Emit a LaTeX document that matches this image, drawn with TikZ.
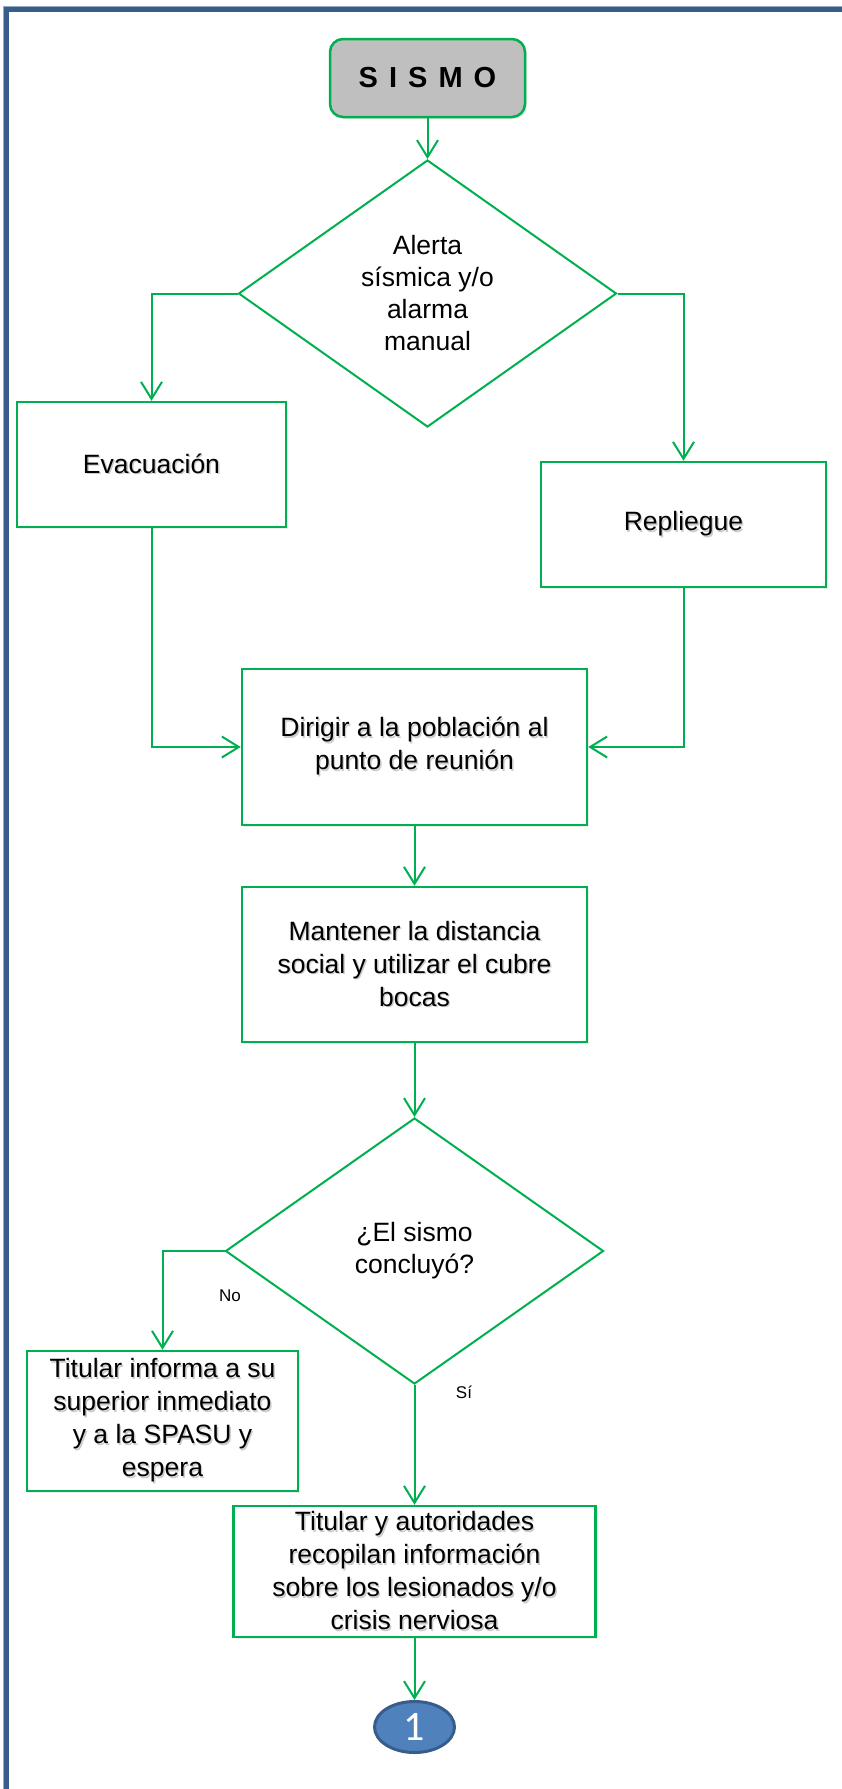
\documentclass[tikz,border=0pt]{standalone}
\usepackage{fontspec}
\setmainfont{Liberation Sans}
\newfontfamily\digitfont{Carlito}
\usetikzlibrary{shapes.geometric,arrows.meta,shadows}
\definecolor{flowgreen}{HTML}{00B050}
\definecolor{frameblue}{HTML}{385D8A}
\definecolor{framelight}{HTML}{95A9C4}
\definecolor{startgray}{HTML}{BFBFBF}
\definecolor{connfill}{HTML}{4F81BD}
\definecolor{connedge}{HTML}{385D8A}
\newcommand\txtshadow[1]{\makebox[0pt][l]{\kern1.4pt\raisebox{-1.4pt}{\color{black!20}#1}}#1}
\begin{document}
\begin{tikzpicture}[x=1pt,y=-1pt,
  box/.style={draw=flowgreen,line width=2.5pt,fill=white,inner sep=0pt,align=center,
    font=\fontsize{26.5}{33}\selectfont,
    drop shadow={shadow xshift=2pt,shadow yshift=-2pt,opacity=0.15}},
  decision/.style={diamond,aspect=1.42,draw=flowgreen,line width=2pt,inner sep=0pt,align=center,
    font=\fontsize{26.5}{32}\selectfont},
  arr/.style={draw=flowgreen,line width=2pt,-{Straight Barb[length=17pt,width=21pt]}},
  lbl/.style={font=\fontsize{17}{20}\selectfont,inner sep=0pt}
]
\useasboundingbox (0,0) rectangle (842,1789);
\fill[white] (0,0) rectangle (842,1789);
% frame
\draw[framelight,line width=1pt] (3,1789) -- (3,6.5) -- (842,6.5);
\draw[frameblue,line width=5pt,line join=miter] (6,1789) -- (6,9.5) -- (842,9.5);

% nodes
\node[box,rounded corners=13pt,fill=startgray,minimum width=195pt,minimum height=78pt,
  font=\fontsize{29}{33}\selectfont\bfseries] (sismo) at (427.5,78)
  {S\hspace{0.38em}I\hspace{0.38em}S\hspace{0.38em}M\hspace{0.38em}O};
\node[decision,minimum width=378pt,minimum height=267pt] (d1) at (427.5,293.5)
  {Alerta\\sísmica y/o\\alarma\\manual};
\node[box,minimum width=269pt,minimum height=125pt] (evac) at (151.5,464.5)
  {\txtshadow{Evacuación}};
\node[box,minimum width=285pt,minimum height=125pt] (rep) at (683.5,524.5)
  {\txtshadow{Repliegue}};
\node[box,minimum width=345pt,minimum height=156pt] (dir) at (414.5,747)
  {\txtshadow{Dirigir a la población al}\\\txtshadow{punto de reunión}};
\node[box,minimum width=345pt,minimum height=155pt] (man) at (414.5,964.5)
  {\txtshadow{Mantener la distancia}\\\txtshadow{social y utilizar el cubre}\\\txtshadow{bocas}};
\node[decision,minimum width=378pt,minimum height=266pt] (d2) at (414.5,1251)
  {¿El sismo\\concluyó?};
\node[box,minimum width=271pt,minimum height=140pt] (inf) at (162.5,1421)
  {\txtshadow{Titular informa a su}\\\txtshadow{superior inmediato}\\\txtshadow{y a la SPASU y}\\\txtshadow{espera}};
\node[box,minimum width=362pt,minimum height=131pt] (aut) at (414.5,1571.5)
  {\txtshadow{Titular y autoridades}\\\txtshadow{recopilan información}\\\txtshadow{sobre los lesionados y/o}\\\txtshadow{crisis nerviosa}};
\node[ellipse,draw=connedge,fill=connfill,line width=3pt,minimum width=80pt,minimum height=51pt,
  inner sep=0pt,text=white,font=\digitfont\fontsize{42}{42}\selectfont] (c1) at (414.5,1727) {1};

\node[lbl] (no) at (230,1296) {No};
\node[lbl] (si) at (464,1392) {Sí};

% connectors
\draw[arr] (sismo.south) -- (d1.north);
\draw[arr] (d1.west) -| (evac.north);
\draw[arr] (d1.east) -| (rep.north);
\draw[arr] (evac.south) |- (dir.west);
\draw[arr] (rep.south) |- (dir.east);
\draw[arr] (dir.south) -- (man.north);
\draw[arr] (man.south) -- (d2.north);
\draw[arr] (d2.west) -| (inf.north);
\draw[arr] (d2.south) -- (aut.north);
\draw[arr] (aut.south) -- (c1.north);
\end{tikzpicture}
\end{document}
